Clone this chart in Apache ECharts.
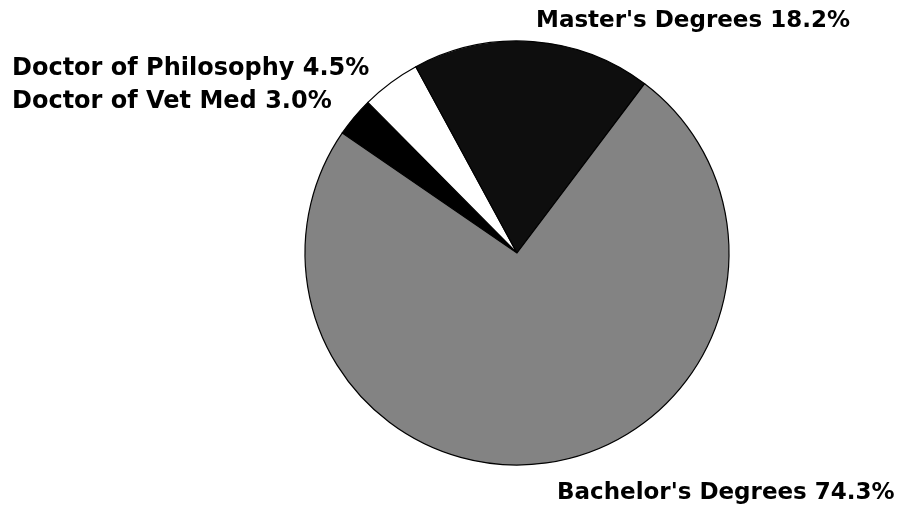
<!DOCTYPE html>
<html>
<head>
<meta charset="utf-8">
<script src="https://cdn.jsdelivr.net/npm/echarts@6/dist/echarts.min.js"></script>
<style>
html,body{margin:0;padding:0;background:#fff;}
#chart{width:913px;height:507px;}
</style>
</head>
<body>
<div id="chart"></div>
<script>
var categories = ["Doctor of Vet Med", "Doctor of Philosophy", "Master's Degrees", "Bachelor's Degrees"];
var values = [3.0, 4.5, 18.2, 74.3];
var sliceColors = ["#000000", "#ffffff", "#0e0e0e", "#838383"];
var labelPos = [
  {x: 12, y: 102, size: 24},
  {x: 12, y: 69, size: 24},
  {x: 536, y: 21, size: 23},
  {x: 557, y: 493, size: 23}
];

var chart = echarts.init(document.getElementById("chart"));
chart.setOption({
  animation: false,
  backgroundColor: "#ffffff",
  series: [{
    type: "pie",
    center: [517, 253],
    radius: [0, 212],
    startAngle: 145.5,
    clockwise: true,
    avoidLabelOverlap: false,
    data: categories.map(function (c, i) {
      return {
        name: c, value: values[i],
        itemStyle: {color: sliceColors[i]},
        label: {fontSize: labelPos[i].size}
      };
    }),
    itemStyle: {borderColor: "#000", borderWidth: 1.2},
    label: {
      show: true,
      position: "outside",
      color: "#000",
      fontFamily: "DejaVu Sans",
      fontWeight: "bold",
      fontSize: 23,
      formatter: function (p) { return p.name + " " + p.value.toFixed(1) + "%"; }
    },
    labelLine: {show: false},
    labelLayout: function (params) {
      var lp = labelPos[params.dataIndex];
      return {x: lp.x, y: lp.y, align: "left", verticalAlign: "middle", hideOverlap: false};
    },
    emphasis: {disabled: true}
  }]
});
</script>
</body>
</html>
